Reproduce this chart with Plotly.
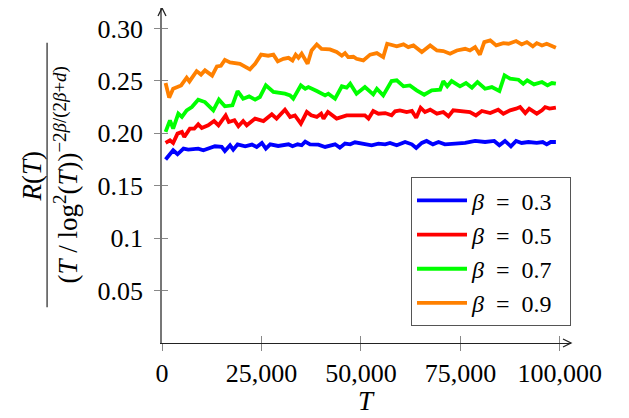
import plotly.graph_objects as go

# ---------------- data ----------------
T_b03 = [900, 2000, 2800, 3900, 5400, 6600, 9100, 10400, 13300, 15000, 15800, 17100, 17900, 19000,
         20900, 22600, 23800, 25100, 26100, 27200, 29200, 31800, 32800, 34100, 35100, 36000, 37200,
         39300, 41000, 43500, 44700, 46000, 47300, 48500, 51000, 52700, 54400, 56100, 57300, 59000,
         61100, 62800, 63900, 65300, 66500, 68100, 69500, 71100, 73700, 76200, 78700, 81200, 83500,
         84800, 86200, 87700, 89000, 90400, 92100, 94200, 95700, 96700, 97700, 99000]
R_b03 = [0.175, 0.1806, 0.1838, 0.180, 0.1854, 0.1844, 0.1854, 0.1838, 0.1876, 0.187, 0.1831, 0.1886,
         0.1844, 0.1895, 0.1876, 0.1892, 0.187, 0.1908, 0.1854, 0.1895, 0.1879, 0.1895, 0.1876, 0.1895,
         0.1886, 0.1921, 0.1895, 0.1892, 0.187, 0.1895, 0.1863, 0.1902, 0.1895, 0.1914, 0.1895, 0.1886,
         0.1902, 0.1895, 0.1908, 0.1886, 0.1917, 0.1895, 0.186, 0.1908, 0.1927, 0.1895, 0.1917, 0.1895,
         0.1902, 0.1908, 0.1927, 0.1917, 0.1927, 0.1886, 0.1927, 0.1876, 0.1927, 0.1908, 0.1917, 0.1908,
         0.1917, 0.1895, 0.1917, 0.1917]

T_b05 = [900, 2000, 2800, 3900, 5000, 5600, 7000, 8100, 9100, 10000, 11600, 13100, 14200, 16000,
         16800, 18200, 19200, 20400, 21300, 23400, 25500, 27600, 28800, 30900, 32200, 33400, 34900,
         36400, 37500, 38900, 40000, 40600, 41700, 43900, 46400, 49400, 51000, 51900, 53100, 54400,
         56100, 57700, 58600, 59800, 61500, 62800, 63900, 65000, 66100, 67400, 69100, 70700, 72000,
         73200, 75300, 77400, 78900, 80400, 82500, 84500, 85800, 87500, 89000, 90000, 91300, 92300,
         94200, 95500, 96300, 97400, 99000]
R_b05 = [0.1908, 0.1933, 0.1908, 0.1997, 0.2013, 0.1965, 0.2044, 0.2044, 0.2086, 0.205, 0.2076,
         0.2117, 0.2076, 0.2171, 0.2108, 0.2124, 0.2067, 0.2117, 0.2076, 0.214, 0.2117, 0.2181, 0.214,
         0.2225, 0.2156, 0.2171, 0.2092, 0.2203, 0.2171, 0.2156, 0.2187, 0.214, 0.2203, 0.214, 0.2171,
         0.2171, 0.2171, 0.214, 0.2213, 0.2187, 0.2193, 0.2171, 0.221, 0.2219, 0.2203, 0.2213, 0.2149,
         0.2244, 0.2203, 0.2225, 0.2187, 0.2203, 0.2162, 0.2219, 0.2213, 0.2203, 0.2171, 0.2213, 0.2193,
         0.2225, 0.2187, 0.2219, 0.2235, 0.225, 0.2193, 0.2235, 0.2187, 0.2219, 0.225, 0.2235, 0.2244]

T_b07 = [900, 2000, 2800, 4100, 5000, 6200, 7500, 9100, 10800, 12900, 14300, 15800, 17700, 19000,
         20400, 21900, 23400, 24600, 26100, 28000, 30900, 32200, 33000, 34900, 36000, 36800, 38900,
         41000, 41800, 43500, 45200, 46400, 47300, 48900, 51000, 53100, 54000, 55600, 57700, 59000,
         60700, 62300, 64000, 65900, 67800, 69900, 70700, 71700, 72800, 74900, 76400, 77900, 79300,
         81200, 82900, 84800, 86100, 87500, 89600, 90800, 91800, 93500, 95500, 96900, 98000, 99000]
R_b07 = [0.2013, 0.2124, 0.2044, 0.2187, 0.2156, 0.2219, 0.225, 0.2321, 0.2298, 0.2219, 0.2321,
         0.2257, 0.2267, 0.2403, 0.233, 0.2352, 0.2321, 0.2346, 0.2457, 0.2394, 0.2378, 0.2362, 0.233,
         0.2457, 0.2425, 0.2441, 0.2403, 0.2362, 0.2378, 0.233, 0.2448, 0.2435, 0.2473, 0.2378, 0.2441,
         0.2371, 0.2425, 0.2362, 0.2498, 0.2505, 0.2448, 0.2457, 0.241, 0.2368, 0.241, 0.2416, 0.2498,
         0.2448, 0.2498, 0.2448, 0.2479, 0.2435, 0.2489, 0.2425, 0.2441, 0.2403, 0.2552, 0.2521, 0.2511,
         0.2473, 0.2505, 0.2467, 0.2489, 0.2457, 0.2479, 0.2473]

T_b09 = [900, 1800, 2800, 4800, 6200, 6900, 8700, 9800, 10800, 12600, 13800, 14800, 15800, 17100,
         19600, 22100, 23400, 24900, 26700, 28000, 29100, 30500, 31800, 32800, 33600, 34300, 35100,
         36600, 37600, 38900, 40100, 42200, 43900, 45200, 46000, 46800, 48100, 48900, 50600, 52300,
         54000, 55600, 56600, 58100, 59000, 60700, 61900, 63200, 65300, 67400, 69100, 70700, 72400,
         74100, 76200, 77400, 78700, 79900, 81000, 82500, 84000, 85800, 87100, 89000, 90400, 91700,
         93200, 94200, 95500, 96700, 98000, 99000]
R_b09 = [0.248, 0.234, 0.2425, 0.2457, 0.253, 0.2495, 0.2593, 0.256, 0.26, 0.255, 0.2638, 0.2644,
         0.270, 0.2676, 0.2663, 0.261, 0.2663, 0.275, 0.274, 0.275, 0.2686, 0.271, 0.272, 0.2695, 0.275,
         0.272, 0.276, 0.2663, 0.279, 0.2848, 0.2806, 0.280, 0.2775, 0.274, 0.2765, 0.2727, 0.273, 0.271,
         0.2695, 0.275, 0.2765, 0.2727, 0.2854, 0.2838, 0.2829, 0.2848, 0.2822, 0.2838, 0.2775, 0.2838,
         0.279, 0.2784, 0.2759, 0.279, 0.2806, 0.279, 0.2822, 0.275, 0.287, 0.2886, 0.2838, 0.286,
         0.2854, 0.288, 0.2848, 0.287, 0.2829, 0.286, 0.2838, 0.2854, 0.2829, 0.2816]

NB = "\u00a0"
series_names = [f"<i>β</i>{NB}{NB}={NB}{NB}0.3{NB}{NB}", f"<i>β</i>{NB}{NB}={NB}{NB}0.5{NB}{NB}",
                f"<i>β</i>{NB}{NB}={NB}{NB}0.7{NB}{NB}", f"<i>β</i>{NB}{NB}={NB}{NB}0.9{NB}{NB}"]
series_colors = ["#0000ff", "#ff0000", "#00ff00", "#ff8000"]

x_tickvals = [0, 25000, 50000, 75000, 100000]
x_ticktext = ["0", "25,000", "50,000", "75,000", "100,000"]
y_tickvals = [0.05, 0.1, 0.15, 0.20, 0.25, 0.30]
y_ticktext = ["0.05", "0.1", "0.15", "0.20", "0.25", "0.30"]

X_RANGE = [0, 102800]
Y_RANGE = [0, 0.3195]

# ---------------- figure ----------------
# the page body adds an 8 px offset, so the figure is 8 px smaller and margins are compensated
FONT = "Liberation Serif"
fig = go.Figure()
for T, R, name, col in zip([T_b03, T_b05, T_b07, T_b09], [R_b03, R_b05, R_b07, R_b09],
                           series_names, series_colors):
    fig.add_trace(go.Scatter(x=T, y=R, mode="lines", name=name,
                             line=dict(color=col, width=3.8)))

# dummy trace on overlay axes (inner half of the centred tick marks)
fig.add_trace(go.Scatter(x=[None], y=[None], xaxis="x2", yaxis="y2", showlegend=False,
                         hoverinfo="skip"))

tickfont = dict(family=FONT, size=26, color="black")
fig.update_layout(
    width=621, height=410,
    margin=dict(l=154, r=58, t=0, b=75, autoexpand=False),
    paper_bgcolor="white", plot_bgcolor="white",
    font=dict(family=FONT, color="black"),
    showlegend=True,
    legend=dict(x=1.0, xanchor="right", y=0.05, yanchor="bottom",
                bordercolor="#555555", borderwidth=1, bgcolor="white",
                font=dict(family=FONT, size=24, color="black"),
                itemwidth=50, tracegroupgap=0),
    xaxis=dict(range=X_RANGE, showgrid=False, zeroline=False, showline=True, automargin=False,
               linecolor="#222222", linewidth=1.2,
               tickmode="array", tickvals=x_tickvals, ticktext=x_ticktext,
               ticks="outside", ticklen=7, tickcolor="#888888", tickwidth=1,
               tickfont=tickfont),
    yaxis=dict(range=Y_RANGE, showgrid=False, zeroline=False, showline=True, automargin=False,
               linecolor="#777777", linewidth=1.6,
               tickmode="array", tickvals=y_tickvals, ticktext=y_ticktext,
               ticks="outside", ticklen=6, tickcolor="#888888", tickwidth=1,
               ticklabelstandoff=6, tickfont=tickfont),
    xaxis2=dict(range=X_RANGE, overlaying="x", side="bottom", showgrid=False, zeroline=False,
                showline=False, automargin=False, tickmode="array", tickvals=x_tickvals,
                showticklabels=False, ticks="inside", ticklen=7, tickcolor="#888888", tickwidth=1),
    yaxis2=dict(range=Y_RANGE, overlaying="y", side="left", showgrid=False, zeroline=False,
                showline=False, automargin=False, tickmode="array", tickvals=y_tickvals,
                showticklabels=False, ticks="inside", ticklen=6, tickcolor="#888888", tickwidth=1),
)

# axis arrow heads (open "->" style), sized in pixels
fig.add_shape(type="path", xref="paper", yref="paper", xsizemode="pixel", ysizemode="pixel",
              xanchor=0, yanchor=1, path="M-4,-8 L0,0 L4,-8",
              line=dict(color="#222222", width=1.3))
fig.add_shape(type="path", xref="paper", yref="paper", xsizemode="pixel", ysizemode="pixel",
              xanchor=1, yanchor=0, path="M-8,-4 L0,0 L-8,4",
              line=dict(color="#222222", width=1.3))

# x-axis title (kept inside the figure's bottom edge)
fig.add_annotation(xref="paper", yref="paper", x=0.499, y=-0.2239, xanchor="center",
                   yanchor="bottom", showarrow=False, text="<i>T</i>",
                   font=dict(family=FONT, size=27, color="black"))

# y-axis label as a fraction
fig.add_annotation(xref="paper", yref="paper", x=-0.318, y=0.50, xanchor="center",
                   yanchor="middle", textangle=-90, showarrow=False,
                   text="<i>R</i>(<i>T</i>)", font=dict(family=FONT, size=27, color="black"))
fig.add_annotation(xref="paper", yref="paper", x=-0.237, y=0.50, xanchor="center",
                   yanchor="middle", textangle=-90, showarrow=False,
                   text="(<i>T</i> / log<sup>2</sup>(<i>T</i>))<sup>−2<i>β</i>/(2<i>β</i>+<i>d</i>)</sup>",
                   font=dict(family=FONT, size=27, color="black"))
fig.add_shape(type="line", xref="paper", yref="paper", x0=-0.281, x1=-0.281, y0=0.107, y1=0.896,
              line=dict(color="#222222", width=1.2))

fig.write_html("out.html")
